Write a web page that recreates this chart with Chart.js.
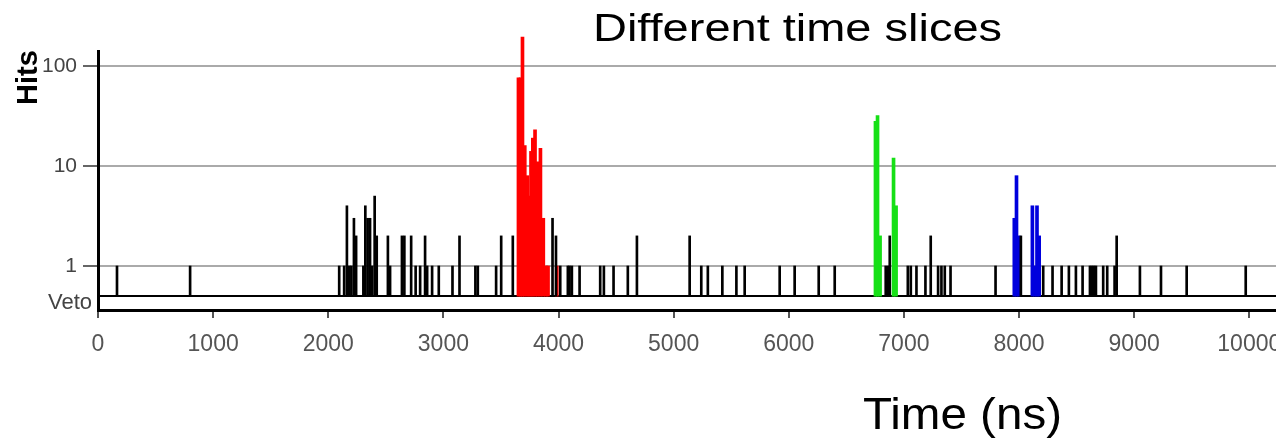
<!DOCTYPE html>
<html>
<head>
<meta charset="utf-8">
<script src="https://cdn.jsdelivr.net/npm/chart.js@4.4.0/dist/chart.umd.min.js"></script>
<style>
html,body{margin:0;padding:0;background:#fff;}
#wrap{width:1276px;height:438px;position:relative;}
</style>
</head>
<body>
<div id="wrap"><canvas id="c" width="1276" height="438"></canvas></div>
<script>
// ---- data (time in ns, hits) ----
const titleText = 'Different time slices';
const xTitle = 'Time (ns)';
const yTitle = 'Hits';
const vetoLevel = 0.5;
const yTickValues = [0.5, 1, 10, 100];
const yTickLabels = ['Veto', '1', '10', '100'];
const xTickValues = [0, 1000, 2000, 3000, 4000, 5000, 6000, 7000, 8000, 9000, 10000];

const blackTimes = [165, 800, 2095, 2138, 2162, 2183, 2201, 2223, 2242, 2305, 2322, 2342, 2363, 2381, 2403, 2421,
  2518, 2537, 2640, 2661, 2720, 2759, 2798, 2841, 2859, 2902, 2960, 3079, 3140, 3278, 3299, 3458, 3502, 3603,
  3948, 3978, 4015, 4081, 4096, 4116, 4183, 4362, 4394, 4478, 4602, 4681, 5139, 5240, 5297, 5423, 5545, 5617,
  5921, 6051, 6260, 6399,
  6842, 6864, 6877, 7034, 7060, 7109, 7187, 7233, 7297, 7326, 7355, 7405,
  7796, 8016, 8210, 8291, 8370, 8433, 8494, 8552, 8616, 8633, 8650, 8668, 8731, 8766, 8830, 8848,
  9050, 9233, 9456, 9969];
const blackHits = [1, 1, 1, 1, 4, 1, 1, 3, 2, 1, 4, 3, 3, 1, 5, 2,
  2, 1, 2, 2, 2, 1, 1, 2, 1, 1, 1, 1, 2, 1, 1, 1, 2, 2,
  3, 2, 1, 1, 1, 1, 1, 1, 1, 1, 1, 2, 2, 1, 1, 1, 1, 1,
  1, 1, 1, 1,
  1, 1, 2, 1, 1, 1, 1, 2, 1, 1, 1, 1,
  1, 2, 1, 1, 1, 1, 1, 1, 1, 1, 1, 1, 1, 1, 1, 2,
  1, 1, 1, 1];

const redTimes = [3652, 3670, 3687, 3707, 3729, 3744, 3761, 3777, 3796, 3817, 3843, 3868, 3891, 3909, 3985];
const redHits  = [76, 76, 195, 16, 8, 5, 14, 19, 23, 11, 15, 3, 1, 1, 1];

const greenTimes = [6753, 6771, 6793, 6910, 6932];
const greenHits  = [28, 32, 2, 12, 4];

const blueTimes = [7959, 7978, 7997, 8116, 8137, 8156, 8175];
const blueHits  = [3, 8, 2, 4, 1, 4, 2];

function bars(times, hits) {
  return times.map((t, i) => ({ x: t, y: [vetoLevel, hits[i]] }));
}

const FONT = '"Liberation Sans", Arial, sans-serif';

const textPlugin = {
  id: 'texts',
  afterDraw(chart) {
    const ctx = chart.ctx;
    ctx.save();
    ctx.fillStyle = '#000';
    ctx.textBaseline = 'alphabetic';
    ctx.textAlign = 'left';
    // title
    ctx.font = '38px ' + FONT;
    let w = ctx.measureText(titleText).width;
    ctx.save();
    ctx.translate(593, 41);
    ctx.scale(409 / w, 1);
    ctx.fillText(titleText, 0, 0);
    ctx.restore();
    // x title
    ctx.font = '44px ' + FONT;
    w = ctx.measureText(xTitle).width;
    ctx.save();
    ctx.translate(863, 429);
    ctx.scale(199 / w, 1);
    ctx.fillText(xTitle, 0, 0);
    ctx.restore();
    // y title
    ctx.font = 'bold 29px ' + FONT;
    ctx.save();
    ctx.translate(37, 105);
    ctx.rotate(-Math.PI / 2);
    ctx.fillText(yTitle, 0, 0);
    ctx.restore();
    // Veto tick label
    ctx.font = '22px ' + FONT;
    ctx.fillStyle = '#444';
    ctx.textAlign = 'right';
    ctx.fillText(yTickLabels[0], 92, 309);
    ctx.restore();
  }
};

new Chart(document.getElementById('c'), {
  type: 'bar',
  data: {
    datasets: [
      { label: 'other', data: bars(blackTimes, blackHits), backgroundColor: '#000', barThickness: 2, grouped: false, clip: false },
      { label: 'slice 1', data: bars(redTimes, redHits), backgroundColor: '#ff0000', barThickness: 3, grouped: false, clip: false },
      { label: 'slice 2', data: bars(greenTimes, greenHits), backgroundColor: '#16e016', barThickness: 3, grouped: false, clip: false },
      { label: 'slice 3', data: bars(blueTimes, blueHits), backgroundColor: '#0000dd', barThickness: 3, grouped: false, clip: false }
    ]
  },
  options: {
    responsive: false,
    animation: false,
    events: [],
    layout: { padding: { top: 51, left: 0, right: 0, bottom: 0 } },
    plugins: { legend: { display: false }, tooltip: { enabled: false }, title: { display: false } },
    scales: {
      x: {
        type: 'linear',
        min: 0,
        max: 10232,
        offset: false,
        position: 'bottom',
        afterBuildTicks: s => { s.ticks = xTickValues.map(v => ({ value: v })); },
        afterFit: s => { s.height = 128; s.paddingLeft = 0; s.paddingRight = 0; },
        ticks: {
          color: '#555',
          font: { family: FONT, size: 23 },
          padding: 13,
          maxRotation: 0,
          autoSkip: false,
          callback: v => String(v)
        },
        grid: { offset: false, drawOnChartArea: false, drawTicks: true, tickLength: 8, color: '#555', lineWidth: 2 },
        border: { color: '#000', width: 3 }
      },
      y: {
        type: 'logarithmic',
        min: 0.363,
        max: 141.25,
        afterBuildTicks: s => { s.ticks = yTickValues.map(v => ({ value: v })); },
        afterFit: s => { s.width = 98; s.paddingTop = 0; s.paddingBottom = 0; },
        ticks: {
          color: '#444',
          font: { family: FONT, size: 21 },
          padding: 6,
          autoSkip: false,
          callback: v => (v === vetoLevel ? '' : yTickLabels[yTickValues.indexOf(v)])
        },
        grid: {
          color: c => (c.tick && c.tick.value === vetoLevel ? '#000' : '#aaa'),
          tickColor: c => (c.tick && c.tick.value === vetoLevel ? 'rgba(0,0,0,0)' : '#666'),
          lineWidth: 2,
          tickLength: 15,
          drawTicks: true
        },
        border: { color: '#000', width: 3 }
      }
    }
  },
  plugins: [textPlugin]
});
</script>
</body>
</html>
